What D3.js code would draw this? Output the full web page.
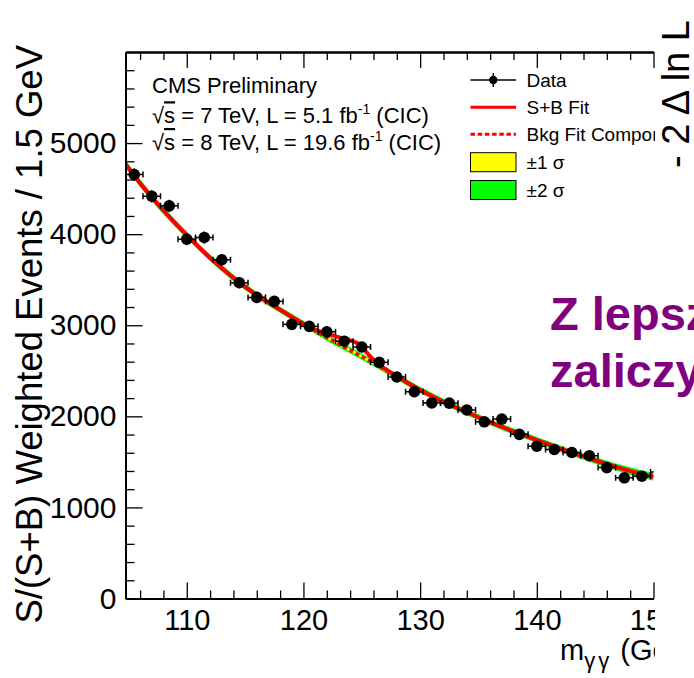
<!DOCTYPE html>
<html>
<head>
<meta charset="utf-8">
<script src="https://cdn.jsdelivr.net/npm/d3@7"></script>
<style>
  body { margin: 0; background: #fff; }
  svg text { font-family: "Liberation Sans", Arial, Helvetica, sans-serif; }
</style>
</head>
<body>
<div id="graph"></div>
<script>
//数据
var massBins = [105.5, 107, 108.5, 110, 111.5, 113, 114.5, 116, 117.5, 119, 120.5, 122, 123.5, 125, 126.5,
    128, 129.5, 131, 132.5, 134, 135.5, 137, 138.5, 140, 141.5, 143, 144.5, 146, 147.5, 149, 150.5];
var weightedEvents = [4655, 4417, 4311, 3945, 3964, 3719, 3467, 3306, 3262, 3010, 2988, 2928, 2825, 2761, 2593,
    2432, 2270, 2147, 2145, 2070, 1940, 1970, 1802, 1672, 1636, 1603, 1568, 1437, 1325, 1343, 1390];
var eventErrors = [70, 68, 68, 66, 66, 64, 62, 62, 61, 60, 60, 59, 58, 58, 57,
    56, 55, 54, 54, 53, 52, 52, 51, 50, 50, 49, 49, 48, 47, 47, 46];

var fitMass = [104.75, 106, 108, 110, 112, 114, 116, 118, 120, 121, 122, 123, 124, 124.8, 125.5, 126.2, 127, 128,
    130, 132, 134, 136, 138, 140, 142, 144, 146, 148, 150];
var bkgFit = [4770, 4560, 4260, 3990, 3740, 3520, 3330, 3170, 3015, 2940, 2865, 2795, 2725, 2670, 2620, 2570, 2510, 2435,
    2290, 2160, 2045, 1935, 1835, 1740, 1645, 1560, 1475, 1400, 1336];
var sbFit = [4770, 4560, 4260, 3990, 3740, 3520, 3330, 3170, 3015, 2950, 2910, 2870, 2835, 2790, 2690, 2595, 2520, 2440,
    2290, 2160, 2045, 1935, 1835, 1740, 1645, 1560, 1475, 1400, 1336];
var oneSigma = [22, 21, 20, 19, 18, 18, 17, 17, 17, 17, 17, 17, 17, 17, 17, 17, 17, 17,
    17, 17, 17, 17, 17, 17, 18, 18, 19, 20, 21];
var twoSigma = [44, 42, 40, 38, 36, 36, 34, 34, 34, 34, 34, 34, 34, 34, 34, 34, 34, 34,
    34, 34, 34, 34, 34, 34, 36, 36, 38, 40, 42];

var xMajorTicks = [110, 120, 130, 140, 150];
var yMajorTicks = [0, 1000, 2000, 3000, 4000, 5000];

var legendLabels = ["Data", "S+B Fit", "Bkg Fit Component", "\u00b11 \u03c3", "\u00b12 \u03c3"];

//绘图及显示属性
const width = 694;
const height = 678;
var margins = {top: 52, bottom: 79.5, left: 125.5, right: 40.5};
var innerW = width - margins.left - margins.right;
var innerH = height - margins.top - margins.bottom;

var svg = d3.select("#graph").append("svg")
    .attr("width", width).attr("height", height);

svg.append("defs").append("clipPath").attr("id", "crop")
    .append("rect").attr("x", 0).attr("y", 0).attr("width", 655).attr("height", height);
svg.append("defs").append("clipPath").attr("id", "plotclip")
    .append("rect").attr("x", 0).attr("y", 0).attr("width", innerW).attr("height", innerH);

var root = svg.append("g").attr("clip-path", "url(#crop)");
var g = root.append("g").attr("transform", "translate(" + margins.left + "," + margins.top + ")");

var x = d3.scaleLinear().domain([104.75, 150]).range([0, innerW]);
var y = d3.scaleLinear().domain([0, 6000]).range([innerH, 0]);

// bands and fit curves
var plot = g.append("g").attr("clip-path", "url(#plotclip)");
var fitPts = fitMass.map(function (m, i) {
    return {m: m, b: bkgFit[i], sb: sbFit[i], s1: oneSigma[i], s2: twoSigma[i]};
});

var band = function (key) {
    return d3.area().curve(d3.curveMonotoneX)
        .x(function (d) { return x(d.m); })
        .y0(function (d) { return y(d.b - d[key]); })
        .y1(function (d) { return y(d.b + d[key]); });
};
plot.append("path").datum(fitPts).attr("d", band("s2")).attr("fill", "#00ff00");
plot.append("path").datum(fitPts).attr("d", band("s1")).attr("fill", "#ffff00");

plot.append("path").datum(fitPts)
    .attr("d", d3.line().curve(d3.curveMonotoneX)
        .x(function (d) { return x(d.m); }).y(function (d) { return y(d.b); }))
    .attr("fill", "none").attr("stroke", "#ff0000").attr("stroke-width", 3.5)
    .attr("stroke-dasharray", "4,3");
plot.append("path").datum(fitPts)
    .attr("d", d3.line().curve(d3.curveMonotoneX)
        .x(function (d) { return x(d.m); }).y(function (d) { return y(d.sb); }))
    .attr("fill", "none").attr("stroke", "#ff0000").attr("stroke-width", 4);

// data points
var pts = plot.append("g").selectAll(".pt")
    .data(massBins.map(function (m, i) { return {m: m, v: weightedEvents[i], e: eventErrors[i]}; }))
    .enter().append("g").attr("class", "pt")
    .attr("transform", function (d) { return "translate(" + x(d.m) + "," + y(d.v) + ")"; });
pts.append("line")
    .attr("x1", function (d) { return x(d.m - 0.75) - x(d.m); })
    .attr("x2", function (d) { return x(d.m + 0.75) - x(d.m); })
    .attr("stroke", "#000").attr("stroke-width", 1.5);
pts.append("line")
    .attr("y1", function (d) { return y(d.v + d.e) - y(d.v); })
    .attr("y2", function (d) { return y(d.v - d.e) - y(d.v); })
    .attr("stroke", "#000").attr("stroke-width", 1.5);
[-0.75, 0.75].forEach(function (o) {
    pts.append("line")
        .attr("x1", function (d) { return x(d.m + o) - x(d.m); })
        .attr("x2", function (d) { return x(d.m + o) - x(d.m); })
        .attr("y1", -3).attr("y2", 3)
        .attr("stroke", "#000").attr("stroke-width", 1.5);
});
pts.append("circle").attr("r", 5.8).attr("fill", "#000");

// axes
function styleAxis(sel, w) {
    sel.select(".domain").attr("stroke-width", 2);
    sel.selectAll(".tick line").attr("stroke-width", w);
}
var xMinor = d3.range(106, 151, 2).filter(function (v) { return v % 10 !== 0; });
var yMinor = d3.range(200, 6000, 200).filter(function (v) { return v % 1000 !== 0; });

g.append("g").attr("transform", "translate(0," + innerH + ")")
    .call(d3.axisBottom(x).tickValues(xMinor).tickSize(-8).tickSizeOuter(0).tickFormat(""))
    .call(styleAxis, 1.3);
var xAx = g.append("g").attr("transform", "translate(0," + innerH + ")")
    .call(d3.axisBottom(x).tickValues(xMajorTicks).tickSize(-16).tickSizeOuter(0).tickFormat(d3.format("d")))
    .call(styleAxis, 1.3);
xAx.selectAll("text").attr("dy", null).attr("y", 31)
    .attr("font-size", 29).attr("fill", "#000");

g.append("g")
    .call(d3.axisTop(x).tickValues(xMinor).tickSize(-8).tickSizeOuter(0).tickFormat(""))
    .call(styleAxis, 1.3);
g.append("g")
    .call(d3.axisTop(x).tickValues(xMajorTicks).tickSize(-16).tickSizeOuter(0).tickFormat(""))
    .call(styleAxis, 1.3);

g.append("g")
    .call(d3.axisLeft(y).tickValues(yMinor).tickSize(-9).tickSizeOuter(0).tickFormat(""))
    .call(styleAxis, 1.3);
var yAx = g.append("g")
    .call(d3.axisLeft(y).tickValues(yMajorTicks).tickSize(-17).tickSizeOuter(0).tickPadding(9).tickFormat(d3.format("d")))
    .call(styleAxis, 1.3);
yAx.selectAll("text").attr("font-size", 30).attr("fill", "#000");

// axis titles
root.append("text")
    .attr("transform", "translate(42,45) rotate(-90)")
    .attr("text-anchor", "end")
    .attr("font-size", 36.5)
    .text("S/(S+B) Weighted Events / 1.5 GeV");

var xt = root.append("text").attr("x", 560).attr("y", 660).attr("font-size", 29);
xt.append("tspan").text("m");
xt.append("tspan").attr("font-size", 22).attr("dy", 8).attr("letter-spacing", 3).text("\u03b3\u03b3");
xt.append("tspan").attr("dy", -8).text(" (GeV)");

// top-left labels
root.append("text").attr("x", 152).attr("y", 93).attr("font-size", 22).text("CMS Preliminary");
[["7", "5.1", 123.3], ["8", "19.6", 150]].forEach(function (r) {
    var t = root.append("text").attr("x", 152).attr("y", r[2]).attr("font-size", 22);
    t.append("tspan").text("\u221a");
    t.append("tspan").style("text-decoration", "overline").text("s");
    t.append("tspan").text(" = " + r[0] + " TeV, L = " + r[1] + " fb");
    t.append("tspan").attr("font-size", 14).attr("dy", -9).text("-1");
    t.append("tspan").attr("dy", 9).text(" (CIC)");
});

// legend
var lg = root.append("g");
var lx0 = 470.5, lx1 = 516, ltx = 526.5;
var rowY = [80, 107.3, 134.3, 162, 190];
lg.append("line").attr("x1", lx0).attr("x2", lx1).attr("y1", rowY[0]).attr("y2", rowY[0])
    .attr("stroke", "#000").attr("stroke-width", 1.5);
lg.append("line").attr("x1", 493.3).attr("x2", 493.3).attr("y1", rowY[0] - 7).attr("y2", rowY[0] + 7)
    .attr("stroke", "#000").attr("stroke-width", 1.5);
lg.append("circle").attr("cx", 493.3).attr("cy", rowY[0]).attr("r", 4.2).attr("fill", "#000");
lg.append("line").attr("x1", lx0).attr("x2", lx1).attr("y1", rowY[1]).attr("y2", rowY[1])
    .attr("stroke", "#ff0000").attr("stroke-width", 3);
lg.append("line").attr("x1", lx0).attr("x2", lx1).attr("y1", rowY[2]).attr("y2", rowY[2])
    .attr("stroke", "#ff0000").attr("stroke-width", 3).attr("stroke-dasharray", "4.5,2.7");
lg.append("rect").attr("x", lx0).attr("y", 152.7).attr("width", lx1 - lx0).attr("height", 19)
    .attr("fill", "#ffff00").attr("stroke", "#000").attr("stroke-width", 1);
lg.append("rect").attr("x", lx0).attr("y", 180.5).attr("width", lx1 - lx0).attr("height", 19)
    .attr("fill", "#00ff00").attr("stroke", "#000").attr("stroke-width", 1);
lg.selectAll(".ltext").data(legendLabels).enter().append("text")
    .attr("class", "ltext")
    .attr("x", ltx)
    .attr("y", function (d, i) { return rowY[i] + 6.5; })
    .attr("font-size", 19)
    .text(function (d) { return d; });

// overlays outside crop
svg.append("text")
    .attr("transform", "translate(689,168) rotate(-90)")
    .attr("font-size", 38)
    .attr("font-family", "Liberation Sans, Arial, sans-serif")
    .text("- 2 \u0394 ln L");

svg.append("text").attr("x", 550).attr("y", 330)
    .attr("font-size", 47).attr("font-weight", "bold").attr("fill", "#800080")
    .text("Z lepszą");
svg.append("text").attr("x", 550).attr("y", 387)
    .attr("font-size", 47).attr("font-weight", "bold").attr("fill", "#800080")
    .text("zaliczyła");
</script>
</body>
</html>
